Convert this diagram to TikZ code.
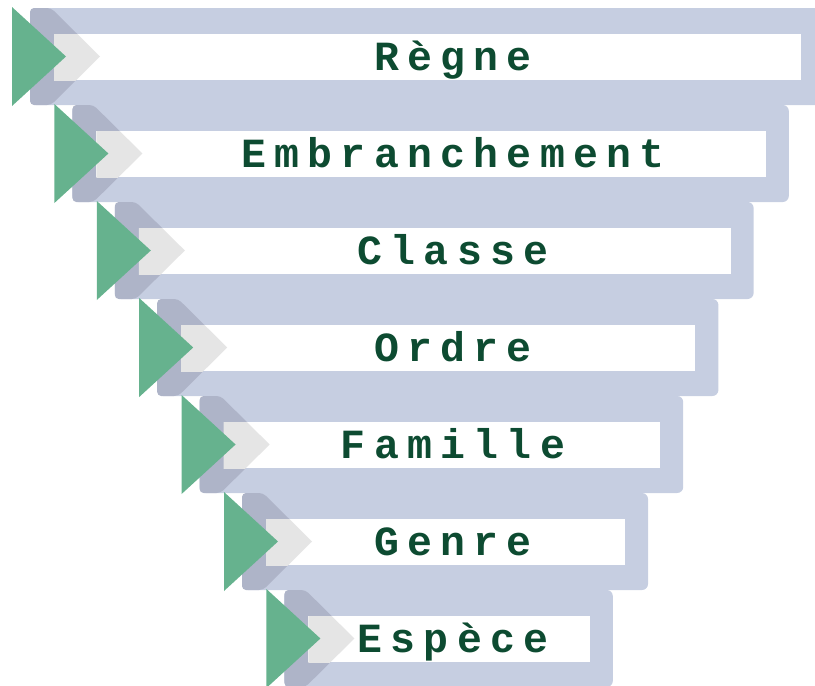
\documentclass[tikz,border=0pt]{standalone}
\usepackage{fontspec}
\newfontfamily\labfont[LetterSpace=20]{Liberation Mono}
\definecolor{bandblue}{HTML}{C6CEE1}
\definecolor{chevdarkc}{HTML}{AEB4C8}
\definecolor{chevlightc}{HTML}{E5E5E5}
\definecolor{trigreen}{HTML}{66B28E}
\definecolor{txtgreen}{HTML}{0D4B31}
\tikzset{
  band/.style={fill=bandblue, rounded corners=6pt},
  whitebar/.style={fill=white},
  chevdark/.style={fill=chevdarkc, rounded corners=4pt},
  chevlight/.style={fill=chevlightc},
  greentri/.style={fill=trigreen},
  lab/.style={inner sep=0pt, text=txtgreen, font=\labfont\bfseries\fontsize{41.5}{41.5}\selectfont, anchor=base}
}
\begin{document}
\begin{tikzpicture}[x=1pt,y=-1pt]
\useasboundingbox (0,0) rectangle (815,686);
\clip (0,0) rectangle (815,686);
\foreach \k/\t in {0/Règne,1/Embranchement,2/Classe,3/Ordre,4/Famille,5/Genre,6/Espèce}{
  \pgfmathsetmacro\L{30+42.4*\k}
  \pgfmathsetmacro\R{824-35.2*\k}
  \pgfmathsetmacro\T{8+97*\k}
  \pgfmathsetmacro\B{105+97*\k}
  \pgfmathsetmacro\M{56.5+97*\k}
  \pgfmathsetmacro\Y{70+97*\k}
  \pgfmathsetmacro\WL{54+42.4*\k}
  \pgfmathsetmacro\WR{801-35.2*\k}
  \pgfmathsetmacro\WT{34+97*\k}
  \pgfmathsetmacro\WB{80+97*\k}
  \pgfmathsetmacro\GL{12+42.4*\k}
  \pgfmathsetmacro\GT{7+97*\k}
  \pgfmathsetmacro\GB{106+97*\k}
  \pgfmathsetmacro\GA{66+42.4*\k}
  \pgfmathsetmacro\PA{\L+21}
  \pgfmathsetmacro\PX{\L+70}
  \fill[band] (\L,\T) rectangle (\R,\B);
  \fill[chevdark] (\L,\T) -- (\PA,\T) -- (\PX,\M) -- (\PA,\B) -- (\L,\B) -- cycle;
  \fill[whitebar] (\WL,\WT) rectangle (\WR,\WB);
  \begin{scope}
    \clip (\WL,\WT) rectangle (\WR,\WB);
    \fill[chevlight] (\L,\T) -- (\PA,\T) -- (\PX,\M) -- (\PA,\B) -- (\L,\B) -- cycle;
  \end{scope}
  \fill[greentri] (\GL,\GT) -- (\GA,\M) -- (\GL,\GB) -- cycle;
  \node[lab] (lab\k) at (453,\Y) {\t};
}
\end{tikzpicture}
\end{document}
